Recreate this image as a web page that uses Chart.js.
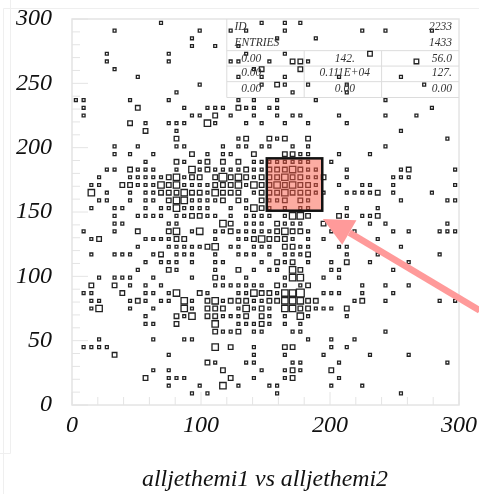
<!DOCTYPE html>
<html><head><meta charset="utf-8">
<style>html,body{margin:0;padding:0;background:#fff}canvas{display:block}</style>
<script src="https://cdn.jsdelivr.net/npm/chart.js@4"></script>
</head><body><canvas id="c" width="479" height="494"></canvas>
<script>
// Histogram: 50 x 50 bins over 0..300. Plain number = bin column with box class 1; [col, n] = box class n.
const binWidth = 6;
const row49=[11,24,27,29];
const row48=[5,16,20,22,27,37,40,46];
const row47=[15,26,31];
const row46=[15,18,21];
const row45=[4,12,22,27,[38,2]];
const row44=[4,12,20,21,25,[28,2],[29,2],30,[44,2]];
const row43=[5,23,[24,2],[29,2]];
const row42=[8,21,24,27,34,42];
const row41=[16,24,[26,2],27,30,35,45];
const row40=[13,28,35];
const row39=[0,1,7,12,21,23,26,31,40];
const row38=[1,[8,2],14,17,18,19,[21,2],22,23,25,26,46];
const row37=[1,15,16,[18,2],20,23,26,28,29,34,40,44];
const row36=[[7,2],9,12,13,14,[17,3],18,22,24,27,30,35];
const row35=[[9,2],13,42];
const row34=[[13,2],21,[22,2],[25,2],26,[27,2],[30,2],48];
const row33=[5,8,13,14,19,21,22,24,25,28,30,40];
const row32=[5,7,10,[15,2],17,19,20,[23,2],[27,2],[28,2],29,30,34,38];
const row31=[9,[13,2],14,16,[17,2],[19,2],[21,2],23,24,25,26,27,28,29,30,33];
const row30=[4,5,[7,2],8,9,10,13,[15,3],16,[17,2],18,19,20,21,[22,2],23,24,[25,2],[26,2],[27,2],[28,3],[29,2],30,31,35,42,[43,2],49];
const row29=[3,7,8,9,10,11,[12,2],[13,3],14,[15,2],[16,2],[18,2],[19,4],[20,2],[21,3],[22,2],23,[24,2],[25,2],[26,2],[27,3],[28,2],[29,2],30,31,[32,2],35,41,42,43];
const row28=[2,3,[6,2],[7,2],8,9,10,[11,3],[12,2],[13,3],14,15,16,17,[18,2],[19,2],[20,2],[21,3],22,[23,3],[24,2],[25,2],[26,3],[27,2],[28,3],[29,2],[30,2],31,34,37,38,41,49];
const row27=[[2,3],4,7,9,10,[11,2],[12,2],[13,2],[14,3],[15,2],[16,2],17,[18,3],[19,2],[20,2],[21,2],23,[24,2],[25,2],[26,2],[27,3],[28,2],[29,2],[30,2],31,32,35,36,37,38,[39,2],41,46];
const row26=[3,4,7,9,10,[12,2],[13,3],[14,3],15,16,17,18,[19,2],[21,2],22,[24,2],25,26,[27,2],[29,2],30,42,48,49];
const row25=[2,5,6,9,11,12,[13,3],14,15,16,17,20,22,[23,3],[24,2],25,27,29,30,35,39];
const row24=[5,8,9,10,11,13,14,[15,2],[16,2],17,18,20,22,23,24,25,27,[28,3],[29,3],[30,2],[34,2],35,37,38,[39,2]];
const row23=[5,6,12,13,[19,3],[20,2],22,23,24,[26,2],27,28,29,[32,2],38,40,48];
const row22=[1,5,[8,2],[12,2],[13,3],15,[16,3],18,19,[20,2],21,22,23,24,25,[26,2],[27,3],[28,2],[29,2],30,33,36,41,43,47,48,49];
const row21=[2,[3,2],9,10,11,12,[13,2],[14,2],18,21,22,[23,2],[24,3],[25,2],[26,2],[27,2],28,30,32,39];
const row20=[8,12,13,14,15,16,[17,2],[18,3],20,21,23,24,25,[27,2],[28,2],29,30,34,35,42];
const row19=[2,5,6,7,10,[11,2],13,14,15,18,21,22,23,25,27,28,29,[30,2],35,39,47];
const row18=[9,11,12,13,15,18,19,24,[26,2],27,[28,2],30,33,[35,2],38,43];
const row17=[8,[12,2],13,18,[21,2],23,25,26,[28,3],[29,2],33,34,41];
const row16=[3,5,6,7,10,15,[18,2],19,22,27,[28,3],[29,3],32,34];
const row15=[[2,2],[5,2],7,9,11,18,19,20,21,22,23,24,[26,2],27,29,[30,2],37,40,43];
const row14=[1,2,[6,2],9,10,12,[13,3],[16,2],17,21,22,[23,3],[24,2],[25,2],26,[27,3],[28,3],[29,4],32,33,34,37,41];
const row13=[2,3,7,[8,2],9,11,12,[14,3],15,[17,2],[18,3],19,[20,2],[21,2],[22,2],23,24,[25,2],[26,2],[27,3],[28,3],[29,3],[30,2],[31,2],36,[37,2],40,47,49];
const row12=[2,[3,3],7,10,[14,3],15,[17,2],[18,2],[19,2],21,[22,3],23,[24,2],25,[27,3],[28,3],[29,2],[30,2],31,32,33,[35,2]];
const row11=[9,[13,2],14,[15,3],[17,2],[18,2],19,20,21,[22,2],[24,2],25,27,[29,3],30,35];
const row10=[9,10,[13,2],[18,3],21,22,23,[24,2],25,27,29];
const row9=[[18,2],19,20,[21,2],23,24,28,29,40];
const row8=[3,10,14,15,30,33,36];
const row7=[1,2,3,4,[18,3],[20,2],23,[27,2],[28,2],33,35];
const row6=[[5,2],12,23,27,32,38,43];
const row5=[[17,2],18,22,23,28,29,34,48];
const row4=[10,12,[19,2],24,27,[28,2],29,[33,2]];
const row3=[[9,2],12,13,14,[20,2],23,27,[28,2],34];
const row2=[12,16,[19,3],21,25,26,33,37];
const row1=[15,17,26,42];
const row0=[];
const allRows=[row0,row1,row2,row3,row4,row5,row6,row7,row8,row9,row10,row11,row12,row13,row14,row15,row16,row17,row18,row19,row20,row21,row22,row23,row24,row25,row26,row27,row28,row29,row30,row31,row32,row33,row34,row35,row36,row37,row38,row39,row40,row41,row42,row43,row44,row45,row46,row47,row48,row49];

const xTickValues=[0,100,200,300];
const yTickValues=[0,50,100,150,200,250,300];
const xTitle="alljethemi1 vs alljethemi2";
const statsRight=["2233","1433"];
const statsLeft=["ID","ENTRIES"];
const statsGrid=[["0.00","142.","56.0"],["0.00","0.111E+04","127."],["0.00","0.00","0.00"]];
const highlightBox={xMin:151,xMax:194,yMin:151,yMax:191.7};
const arrowTip={x:194.5,y:144.5};
const arrowBaseA={x:220.5,y:143.5};
const arrowBaseB={x:209.5,y:124.5};
const arrowTail={x:316,y:73.5};

const points=[];
allRows.forEach((r,j)=>r.forEach(e=>{
  const c=Array.isArray(e)?e[0]:e, n=Array.isArray(e)?e[1]:1;
  points.push({x:(c+0.5)*binWidth,y:(j+0.5)*binWidth,n});
}));
const sides=[0,2.9,4.6,6.4,7.8];
const serif='"Liberation Serif","Times New Roman",serif';

const overlay={
  id:'overlay',
  beforeDatasetsDraw(ch){
    const {ctx,chartArea:a,scales:{x,y}}=ch;
    ctx.save();
    // faint page edges of the source image
    ctx.strokeStyle='#efefef';ctx.lineWidth=1;
    ctx.beginPath();ctx.moveTo(10.5,0);ctx.lineTo(10.5,453.5);ctx.lineTo(0,453.5);
    ctx.moveTo(3.5,453.5);ctx.lineTo(3.5,494);ctx.moveTo(10.5,8.5);ctx.lineTo(479,8.5);ctx.moveTo(3.5,8.5);ctx.lineTo(10.5,8.5);ctx.moveTo(3.5,8.5);ctx.lineTo(3.5,453);ctx.stroke();
    ctx.strokeStyle='#e4e4e4';ctx.lineWidth=1;
    // inward ticks
    x.ticks.forEach(t=>{const p=x.getPixelForValue(t.value);const len=t.value%100===0?13:8;
      ctx.beginPath();ctx.moveTo(p,a.bottom);ctx.lineTo(p,a.bottom-len);ctx.stroke();});
    y.ticks.forEach(t=>{const p=y.getPixelForValue(t.value);const len=t.value%50===0?16:8;
      ctx.beginPath();ctx.moveTo(a.left,p);ctx.lineTo(a.left+len,p);ctx.stroke();});
    ctx.lineWidth=1.5;ctx.strokeRect(a.left,a.top,a.right-a.left,a.bottom-a.top);
    // stats box
    const sl=x.getPixelForValue(120),sm1=x.getPixelForValue(180),sm2=x.getPixelForValue(240);
    const rows=[y.getPixelForValue(275.4),y.getPixelForValue(263.4),y.getPixelForValue(251.3),y.getPixelForValue(239)];
    ctx.strokeStyle='#dcdcdc';ctx.lineWidth=1;
    ctx.beginPath();ctx.moveTo(sl,a.top);ctx.lineTo(sl,rows[3]);ctx.stroke();
    rows.forEach(r=>{ctx.beginPath();ctx.moveTo(sl,r);ctx.lineTo(a.right,r);ctx.stroke();});
    [sm1,sm2].forEach(v=>{ctx.beginPath();ctx.moveTo(v,rows[0]);ctx.lineTo(v,rows[3]);ctx.stroke();});
    ctx.restore();
  },
  afterDatasetsDraw(ch){
    const {ctx,chartArea:a,scales:{x,y}}=ch;
    ctx.save();
    // stats text
    ctx.fillStyle='#333';ctx.font='italic 11.5px '+serif;ctx.textBaseline='middle';
    const rp=x.getPixelForValue(294.5);
    const vals=[y.getPixelForValue(294),y.getPixelForValue(281.5)];
    ctx.textAlign='left';
    ctx.fillText(statsLeft[0],x.getPixelForValue(126),vals[0]);
    ctx.fillText(statsLeft[1],x.getPixelForValue(126),vals[1]);
    ctx.textAlign='right';
    ctx.fillText(statsRight[0],rp,vals[0]);ctx.fillText(statsRight[1],rp,vals[1]);
    const gy=[269.3,257.7,245.5];const gx=[139,211.5,294.5];
    statsGrid.forEach((r,i)=>r.forEach((s,k)=>{
      const px=x.getPixelForValue(gx[k]);
      ctx.textAlign=k===2?'right':'center';
      ctx.fillText(s,px,y.getPixelForValue(gy[i]));
    }));
    // highlighted region
    const l=x.getPixelForValue(highlightBox.xMin),r=x.getPixelForValue(highlightBox.xMax),
          t=y.getPixelForValue(highlightBox.yMax),b=y.getPixelForValue(highlightBox.yMin);
    ctx.fillStyle='rgba(250,90,70,0.5)';ctx.fillRect(l,t,r-l,b-t);
    ctx.strokeStyle='#111';ctx.lineWidth=2.5;ctx.strokeRect(l,t,r-l,b-t);
    // arrow
    const P=o=>[x.getPixelForValue(o.x),y.getPixelForValue(o.y)];
    const [bax,bay]=P(arrowBaseA),[bbx,bby]=P(arrowBaseB),[tx,ty]=P(arrowTip),[ex,ey]=P(arrowTail);
    ctx.strokeStyle='rgba(255,154,154,1)';ctx.fillStyle='rgba(255,154,154,1)';ctx.lineWidth=6.5;
    ctx.beginPath();ctx.moveTo((bax+bbx)/2,(bay+bby)/2);ctx.lineTo(ex,ey);ctx.stroke();
    ctx.beginPath();ctx.moveTo(tx,ty);ctx.lineTo(bax,bay);ctx.lineTo(bbx,bby);ctx.closePath();ctx.fill();
    // x title
    ctx.fillStyle='#111';ctx.font='italic 23.8px '+serif;ctx.textAlign='center';ctx.textBaseline='middle';
    ctx.fillText(xTitle,265,480);
    ctx.restore();
  }
};

new Chart(document.getElementById('c'),{
  type:'scatter',
  data:{datasets:[{
    data:points,
    pointStyle:'rect',
    backgroundColor:'rgba(255,255,255,0)',
    borderColor:'#222',
    borderWidth:1.3,
    pointRadius:c=>sides[c.raw.n]/Math.SQRT2,
    pointHoverRadius:c=>sides[c.raw.n]/Math.SQRT2
  }]},
  options:{
    responsive:false,animation:false,
    layout:{padding:{top:19,right:20,left:0,bottom:0}},
    plugins:{legend:{display:false},tooltip:{enabled:false},title:{display:false}},
    scales:{
      x:{type:'linear',min:0,max:300,
        afterFit(s){s.height=89;s.paddingLeft=0;s.paddingRight=0;},
        grid:{display:false,drawTicks:false},border:{display:false},
        afterBuildTicks(s){s.ticks=[];for(let v=0;v<=300;v+=20)s.ticks.push({value:v});},
        ticks:{autoSkip:false,maxRotation:0,padding:6,color:'#111',font:{family:serif,style:'italic',size:24},
          callback:v=>xTickValues.includes(v)?String(v):''}},
      y:{type:'linear',min:0,max:300,
        afterFit(s){s.width=72;s.paddingTop=0;s.paddingBottom=0;},
        grid:{display:false,drawTicks:false},border:{display:false},
        afterBuildTicks(s){s.ticks=[];for(let v=0;v<=300;v+=10)s.ticks.push({value:v});},
        ticks:{autoSkip:false,padding:20,color:'#111',font:{family:serif,style:'italic',size:24},
          callback:v=>yTickValues.includes(v)?String(v):''}}
    }
  },
  plugins:[overlay]
});
</script></body></html>
